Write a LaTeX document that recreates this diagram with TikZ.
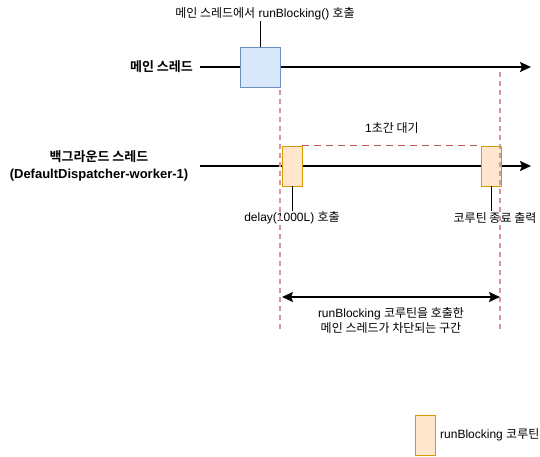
\documentclass[tikz,border=0pt]{standalone}
\usepackage{fontspec}
\setmainfont{Liberation Sans}
\newfontfamily\kr{Noto Sans CJK KR}[BoldFont={Noto Sans CJK KR Bold}]
\usetikzlibrary{arrows.meta}
\definecolor{mainfill}{HTML}{DAE8FC}
\definecolor{maindraw}{HTML}{6C8EBF}
\definecolor{corfill}{HTML}{FFE6CC}
\definecolor{cordraw}{HTML}{D79B00}
\definecolor{waitred}{HTML}{B85450}
\tikzstyle{tip}=[>/.tip={Stealth[length=11pt,width=10pt,inset=2pt]}]
\tikzstyle{thread}=[line width=1.7pt,tip,->]
\tikzstyle{span}=[line width=1.7pt,tip,<->]
\tikzstyle{mainbox}=[draw=maindraw,fill=mainfill,line width=.9pt,minimum width=40pt,minimum height=40pt,inner sep=0pt]
\tikzstyle{corbox}=[draw=cordraw,fill=corfill,line width=.9pt,minimum width=20pt,minimum height=40pt,inner sep=0pt]
\tikzstyle{bound}=[waitred!60,line width=1.1pt,dash pattern=on 5pt off 4pt]
\tikzstyle{wait}=[waitred,line width=1.8pt,dash pattern=on 7pt off 5pt]
\tikzstyle{lbl}=[font=\fontsize{12}{15}\selectfont,align=center,inner sep=1pt]
\tikzstyle{thlbl}=[font=\fontsize{13}{17}\selectfont\bfseries,align=center,inner sep=1pt]
\tikzstyle{pin}=[line width=.9pt]

\begin{document}
\begin{tikzpicture}[x=1pt,y=-1pt]
	\useasboundingbox (0,0) rectangle (540,457);
	% threads
	\draw[thread] (200,67) -- (531,67);
	\draw[thread] (200,166) -- (531,166);
	\node[thlbl,anchor=east] (mainlbl) at (194,67) {{\kr 메인 스레드}};
	\node[thlbl] (bglbl) at (99,166) {{\kr 백그라운드 스레드}\\(DefaultDispatcher-worker-1)};
	% boxes
	\node[mainbox] (runb)  at (260,67) {};
	\node[corbox]  (delay) at (292,166) {};
	\node[corbox]  (done)  at (491,166) {};
	\node[lbl] (runblbl)   at (265,14) {{\kr 메인 스레드에서} runBlocking() {\kr 호출}};
	\node[lbl] (delaylbl)  at (292,218) {delay(1000L) {\kr 호출}};
	\node[lbl] (donelbl)   at (495,218) {{\kr 코루틴 종료 출력}};
	\draw[pin] (runb.north) -- (runb.north |- runblbl.south);
	\draw[pin] (delay.south) -- (delay.south |- delaylbl.north);
	\draw[pin] (done.south) -- (done.south |- donelbl.north);
	% waiting
	\draw[wait] (delay.north east) -- (done.north west);
	\node[lbl] (waitlbl) at (392,128) {1{\kr 초간 대기}};
	% blocked span
	\coordinate (lt) at (280,90);  \coordinate (lb) at (280,330);
	\coordinate (rt) at (500,72);  \coordinate (rb) at (500,330);
	\draw[bound] (lt) -- (lb);
	\draw[bound] (rt) -- (rb);
	\coordinate (sl) at (282,297); \coordinate (sr) at (500,297);
	\draw[span] (sl) -- (sr);
	\node[lbl] (spanlbl) at (391,320) {runBlocking {\kr 코루틴을 호출한}\\{\kr 메인 스레드가 차단되는 구간}};
	% legend
	\node[corbox] (legend) at (425,435) {};
	\node[lbl,anchor=west] (legendlbl) at (439,435) {runBlocking {\kr 코루틴}};
\end{tikzpicture}
\end{document}
